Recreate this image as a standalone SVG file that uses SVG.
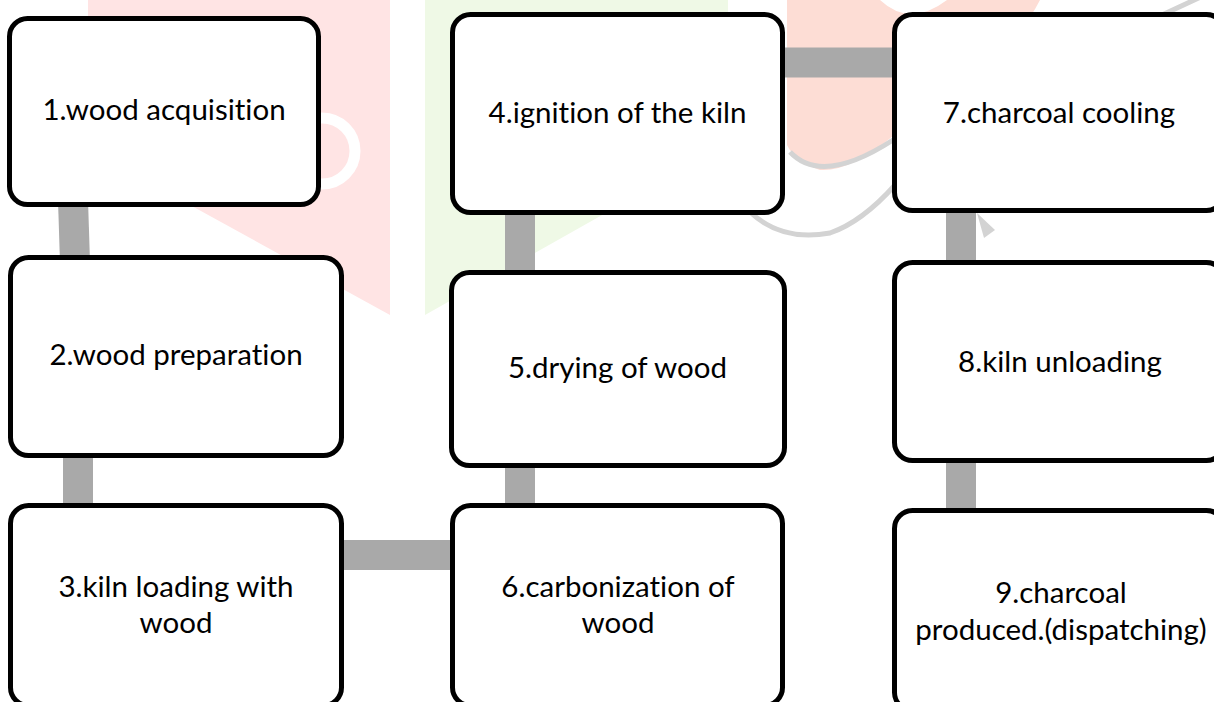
<svg xmlns="http://www.w3.org/2000/svg" width="1214" height="702" viewBox="0 0 1214 702">
  <style>
    .box { fill: #ffffff; stroke: #000000; stroke-width: 5; }
    .lbl { font-family: Lato, "Liberation Sans", sans-serif; font-size: 29.5px; fill: #000000; text-anchor: middle; font-variant-ligatures: none; font-feature-settings: "liga" 0; }
    .conn { stroke: #A9A9A9; stroke-width: 30; fill: none; }
  </style>
  <rect width="1214" height="702" fill="#ffffff"/>
  <g id="watermark">
    <polygon points="88,0 390,0 390,315 88,149" fill="#FFE4E4"/>
    <polygon points="425,0 728,0 728,144 425,315" fill="#EFF9E6"/>
    <path d="M787,0 L880,0 Q910,28 947,0 L1040,0 Q1010,60 893,136 Q850,172 820,170 Q795,162 787,145 Z" fill="#FDDDD5"/>
    <path d="M790,152 Q822,186 893,140 L1205,-5" stroke="#D3D3D3" stroke-width="5" fill="none"/>
    <path d="M750,212 Q782,242 830,233 Q862,222 895,185" stroke="#D3D3D3" stroke-width="5" fill="none"/>
    <path d="M977,213 L995,230 L984,238 Z" fill="#D3D3D3"/>
    <circle cx="322" cy="151" r="33" stroke="#ffffff" stroke-width="11" fill="none"/>
  </g>
  <g id="connectors">
    <line class="conn" x1="73" y1="200" x2="75" y2="262"/>
    <line class="conn" x1="78" y1="450" x2="78" y2="510"/>
    <line class="conn" x1="340" y1="555" x2="455" y2="555"/>
    <line class="conn" x1="520" y1="460" x2="520" y2="510"/>
    <line class="conn" x1="520" y1="210" x2="520" y2="275"/>
    <line class="conn" x1="780" y1="62.5" x2="897" y2="62.5"/>
    <line class="conn" x1="961" y1="208" x2="961" y2="265"/>
    <line class="conn" x1="961" y1="458" x2="961" y2="513"/>
  </g>
  <g id="node1">
    <rect class="box" x="9.5" y="18.5" width="309" height="186" rx="18"/>
    <text class="lbl" x="164" y="120">1.wood acquisition</text>
  </g>
  <g id="node2">
    <rect class="box" x="10.5" y="257.5" width="331" height="198" rx="18"/>
    <text class="lbl" x="176" y="365">2.wood preparation</text>
  </g>
  <g id="node3">
    <rect class="box" x="10.5" y="505.5" width="331" height="200" rx="18"/>
    <text class="lbl" x="176" y="597">3.kiln loading with</text>
    <text class="lbl" x="176" y="633">wood</text>
  </g>
  <g id="node4">
    <rect class="box" x="452.5" y="14.5" width="330" height="198" rx="18"/>
    <text class="lbl" x="617.5" y="123">4.ignition of the kiln</text>
  </g>
  <g id="node5">
    <rect class="box" x="451.5" y="272.5" width="333" height="193" rx="18"/>
    <text class="lbl" x="617.5" y="378">5.drying of wood</text>
  </g>
  <g id="node6">
    <rect class="box" x="452.5" y="505.5" width="330" height="200" rx="18"/>
    <text class="lbl" x="618" y="597">6.carbonization of</text>
    <text class="lbl" x="618" y="633">wood</text>
  </g>
  <g id="node7">
    <rect class="box" x="894.5" y="14.5" width="330" height="196" rx="18"/>
    <text class="lbl" x="1059" y="123">7.charcoal cooling</text>
  </g>
  <g id="node8">
    <rect class="box" x="894.5" y="262.5" width="330" height="198" rx="18"/>
    <text class="lbl" x="1060" y="372">8.kiln unloading</text>
  </g>
  <g id="node9">
    <rect class="box" x="894.5" y="510.5" width="330" height="200" rx="18"/>
    <text class="lbl" x="1061" y="603">9.charcoal</text>
    <text class="lbl" x="1061" y="640">produced.(dispatching)</text>
  </g>
</svg>
